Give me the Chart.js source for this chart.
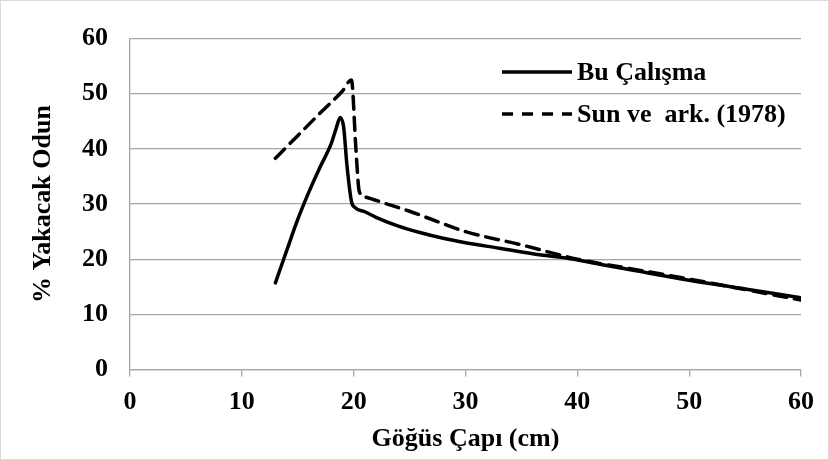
<!DOCTYPE html>
<html>
<head>
<meta charset="utf-8">
<script src="https://cdn.jsdelivr.net/npm/chart.js@4.4.0/dist/chart.umd.min.js"></script>
<style>
  html, body { margin: 0; padding: 0; background: #fff; }
  #wrap { width: 829px; height: 460px; position: relative; box-sizing: border-box; border: 1px solid #d9d9d9; }
  canvas { display: block; }
</style>
</head>
<body>
<div id="wrap"><canvas id="chart" width="827" height="458"></canvas></div>
<script>
// ------------------------------------------------------------
// Data
// ------------------------------------------------------------
const xTicks = [0, 10, 20, 30, 40, 50, 60];
const yTicks = [0, 10, 20, 30, 40, 50, 60];

// Bu Çalışma (solid)
const buX = [13, 14, 15, 16, 17, 18, 18.4, 18.8, 19.1, 19.4, 19.8, 20.1, 21, 22, 24, 26, 28, 30, 33, 36, 39, 42, 45, 50, 55, 60];
const buY = [15.7, 21.5, 27.2, 32.2, 36.7, 41, 43.5, 45.7, 44, 37, 30.5, 29.4, 28.6, 27.6, 26, 24.8, 23.8, 23, 22, 21, 20.2, 19.1, 18, 16.2, 14.6, 13.0];

// Sun ve ark. (1978) (dashed)
const sunX = [13, 15, 17, 19, 19.8, 20.2, 20.5, 21, 23, 25, 27, 30, 35, 40, 45, 50, 55, 60];
const sunY = [38.3, 42.4, 46.5, 50.5, 52.5, 40, 32.3, 31.3, 30, 28.7, 27.2, 25, 22.6, 20, 18.2, 16.4, 14.5, 12.6];

const labels = ['Bu Çalışma', 'Sun ve  ark. (1978)'];

const FONT = "'Liberation Serif', 'Times New Roman', serif";
const GRID = '#a6a6a6';
const FSIZE = 26;

const toPts = (xs, ys) => xs.map((x, i) => ({ x, y: ys[i] }));

// Legend drawn inside the plot, top right
const insideLegend = {
  id: 'insideLegend',
  afterDraw(chart) {
    const ctx = chart.ctx;
    const sets = chart.data.datasets;
    const x0 = 501, x1 = 571, rows = [71, 113];
    ctx.save();
    ctx.font = `bold ${FSIZE}px ${FONT}`;
    ctx.textBaseline = 'middle';
    ctx.fillStyle = '#000';
    sets.forEach((ds, i) => {
      ctx.beginPath();
      ctx.setLineDash(i ? [11, 9] : []);
      ctx.lineWidth = ds.borderWidth;
      ctx.strokeStyle = ds.borderColor;
      ctx.moveTo(x0, rows[i]);
      ctx.lineTo(x1, rows[i]);
      ctx.stroke();
      ctx.setLineDash([]);
      ctx.fillText(ds.label, x1 + 5, rows[i] + 1);
    });
    ctx.restore();
  }
};

new Chart(document.getElementById('chart'), {
  type: 'line',
  data: {
    datasets: [
      {
        label: labels[0],
        data: toPts(buX, buY),
        borderColor: '#000',
        borderWidth: 3.5,
        pointRadius: 0,
        fill: false,
        cubicInterpolationMode: 'monotone',
        borderCapStyle: 'round',
        borderJoinStyle: 'round',
      },
      {
        label: labels[1],
        data: toPts(sunX, sunY),
        borderColor: '#000',
        borderWidth: 3.5,
        borderDash: [13, 8],
        pointRadius: 0,
        fill: false,
        cubicInterpolationMode: 'monotone',
        borderCapStyle: 'round',
        borderJoinStyle: 'round',
      }
    ]
  },
  options: {
    responsive: false,
    animation: false,
    devicePixelRatio: 1,
    layout: { padding: { left: 0, right: 27, top: 34, bottom: 0 } },
    plugins: { legend: { display: false }, tooltip: { enabled: false } },
    scales: {
      x: {
        type: 'linear',
        min: 0, max: 60,
        afterBuildTicks: s => { s.ticks = xTicks.map(v => ({ value: v })); },
        grid: { drawOnChartArea: false, drawTicks: true, tickLength: 7, color: GRID, lineWidth: 1.3 },
        border: { color: GRID, width: 1.3 },
        ticks: { color: '#000', padding: 10, font: { family: FONT, size: FSIZE, weight: 'bold' } },
        title: { display: true, text: 'Göğüs Çapı (cm)', color: '#000', padding: { top: 0, bottom: 4 },
                 font: { family: FONT, size: FSIZE, weight: 'bold' } },
        afterFit: s => { s.height = 89.5; }
      },
      y: {
        type: 'linear',
        min: 0, max: 60,
        afterBuildTicks: s => { s.ticks = yTicks.map(v => ({ value: v })); },
        grid: { color: GRID, lineWidth: 1.3, drawTicks: false },
        border: { color: GRID, width: 1.3 },
        ticks: { color: '#000', padding: 22, font: { family: FONT, size: FSIZE, weight: 'bold' } },
        title: { display: true, text: '% Yakacak Odun', color: '#000', padding: { top: 27, bottom: 0 },
                 font: { family: FONT, size: FSIZE, weight: 'bold' } },
        afterFit: s => { s.width = 129; }
      }
    }
  },
  plugins: [insideLegend]
});
</script>
</body>
</html>
